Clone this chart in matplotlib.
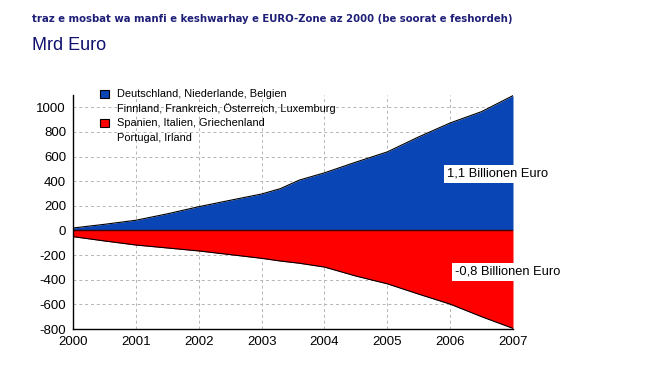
import matplotlib
matplotlib.use("Agg")
import matplotlib.pyplot as plt
from matplotlib.patches import Rectangle

years = [2000, 2000.5, 2001, 2001.5, 2002, 2002.5, 2003, 2003.3, 2003.6, 2004,
         2004.5, 2005, 2005.5, 2006, 2006.5, 2007]
surplus = [20, 50, 83, 135, 193, 245, 296, 340, 409, 468, 555, 638, 760, 873, 965, 1095]
deficit = [-50, -85, -118, -142, -166, -196, -226, -248, -266, -297, -370, -433, -517, -598, -700, -795]

xticks = [2000, 2001, 2002, 2003, 2004, 2005, 2006, 2007]
yticks = [-800, -600, -400, -200, 0, 200, 400, 600, 800, 1000]

label_surplus = ["Deutschland, Niederlande, Belgien", "Finnland, Frankreich, Österreich, Luxemburg"]
label_deficit = ["Spanien, Italien, Griechenland", "Portugal, Irland"]
title = "traz e mosbat wa manfi e keshwarhay e EURO-Zone az 2000 (be soorat e feshordeh)"
unit = "Mrd Euro"
note_surplus = "1,1 Billionen Euro"
note_deficit = "-0,8 Billionen Euro"

blue = "#0a45b5"
red = "#ff0000"
font = "Liberation Sans"
W, H = 660, 384

def fx(px):
    return px / W

def fy(py):
    return 1 - py / H

fig = plt.figure(figsize=(6.6, 3.84), dpi=100)
ax = fig.add_axes([fx(73), fy(329), 440 / W, (329 - 95) / H])

ax.fill_between(years, 0, surplus, color=blue, linewidth=0, zorder=2)
ax.fill_between(years, 0, deficit, color=red, linewidth=0, zorder=2)
ax.plot(years, surplus, color="black", linewidth=0.8, zorder=3)
ax.plot(years, deficit, color="black", linewidth=0.8, zorder=3)
ax.axhline(0, color="#400000", linewidth=1.0, zorder=3)

ax.set_xlim(2000, 2007)
ax.set_ylim(-800, 1100)
ax.set_xticks(xticks)
ax.set_yticks(yticks)
ax.set_xticklabels([str(x) for x in xticks], fontsize=9.5, family=font)
ax.set_yticklabels([str(y) for y in yticks], fontsize=9.5, family=font)
ax.tick_params(length=0, pad=5)
ax.grid(True, color="#b4b4b4", linestyle=(0, (3, 3)), linewidth=0.7, zorder=1)
ax.set_axisbelow(True)
for s in ["top", "right"]:
    ax.spines[s].set_visible(False)
for s in ["left", "bottom"]:
    ax.spines[s].set_linewidth(1.0)
    ax.spines[s].set_zorder(4)

# manual legend
for color, lines, ytop in [(blue, label_surplus, 90), (red, label_deficit, 119)]:
    fig.patches.append(Rectangle((fx(100), fy(ytop + 8)), 9 / W, 8 / H,
                                 transform=fig.transFigure, facecolor=color,
                                 edgecolor="black", linewidth=0.8, zorder=6))
    for i, line in enumerate(lines):
        fig.text(fx(117), fy(ytop + 4 + i * 15), line, fontsize=7.9, family=font,
                 va="center", ha="left", zorder=6)

ax.text(fx(447), fy(174), note_surplus, transform=fig.transFigure, fontsize=9.3, family=font,
        va="center", ha="left", zorder=5,
        bbox=dict(facecolor="white", edgecolor="none", pad=2))
ax.text(fx(455), fy(272), note_deficit, transform=fig.transFigure, fontsize=9.3, family=font,
        va="center", ha="left", zorder=5,
        bbox=dict(facecolor="white", edgecolor="none", pad=2))

fig.text(fx(32), fy(19), title, fontsize=8.1, fontweight="bold", color="#1f1f78",
         family="DejaVu Sans", fontstretch="condensed", va="center", ha="left")
fig.text(fx(32), fy(45), unit, fontsize=13, color="#10106e", family=font,
         va="center", ha="left")

fig.savefig("out.png", dpi=100)
